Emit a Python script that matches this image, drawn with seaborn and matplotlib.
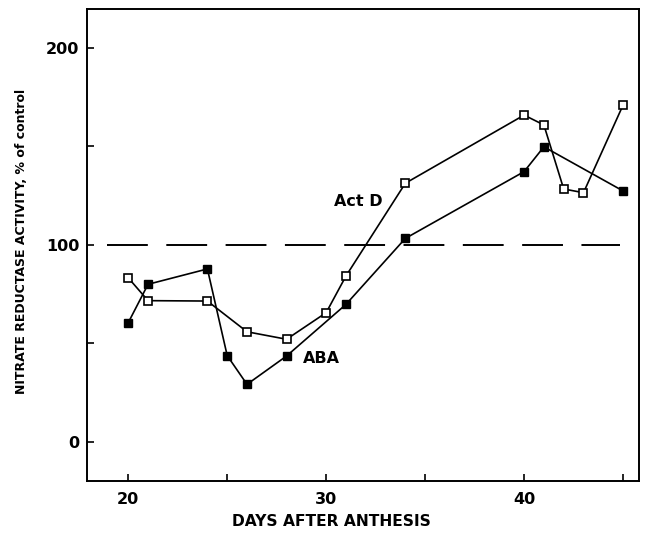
import matplotlib
matplotlib.use("Agg")
import matplotlib.pyplot as plt
import seaborn as sns
import pandas as pd

# Data
act_d_days = [20, 21, 24, 26, 28, 30, 31, 34, 40, 41, 42, 43, 45]
act_d_vals = [83.2, 71.6, 71.4, 55.8, 52.0, 65.5, 84.1, 131.2, 165.8, 160.8, 128.3, 126.4, 170.9]
aba_days = [20, 21, 24, 25, 26, 28, 31, 34, 40, 41, 45]
aba_vals = [60.4, 79.9, 87.7, 43.7, 29.1, 43.5, 69.7, 103.2, 137.1, 149.7, 127.3]
x_ticks = [20, 25, 30, 35, 40, 45]
x_ticklabels = ["20", "", "30", "", "40", ""]
y_ticks = [0, 50, 100, 150, 200]
y_ticklabels = ["0", "", "100", "", "200"]
control_level = 100

sns.set_theme(style="ticks")
plt.rcParams['font.family'] = ['DejaVu Sans']
plt.rcParams['text.color'] = 'black'

fig = plt.figure(figsize=(6.46, 5.36), dpi=100)
ax = fig.add_axes([0.1354, 0.1032, 0.989 - 0.1354, 0.9826 - 0.1032])

df_act = pd.DataFrame({"day": act_d_days, "val": act_d_vals})
df_aba = pd.DataFrame({"day": aba_days, "val": aba_vals})

ax.plot([18.95, 44.85], [control_level, control_level], color="black",
        lw=1.4, linestyle=(0, (21, 9.5)), zorder=1)

sns.lineplot(data=df_aba, x="day", y="val", ax=ax, estimator=None, color="black",
             lw=1.2, marker="s", markersize=5.5, markerfacecolor="black",
             markeredgecolor="black", markeredgewidth=1.0, zorder=3)
sns.lineplot(data=df_act, x="day", y="val", ax=ax, estimator=None, color="black",
             lw=1.2, marker="s", markersize=5.5, markerfacecolor="white",
             markeredgecolor="black", markeredgewidth=1.2, zorder=4)

ax.set_xlim(17.94, 45.8)
ax.set_ylim(-19.8, 219.5)
ax.set_xticks(x_ticks)
ax.set_xticklabels(x_ticklabels)
ax.set_yticks(y_ticks)
ax.set_yticklabels(y_ticklabels)
ax.tick_params(direction="in", length=5, width=1.2, labelsize=11.5, colors="black")
ax.tick_params(axis="x", pad=8)
ax.tick_params(axis="y", pad=6)
for lab in ax.get_xticklabels() + ax.get_yticklabels():
    lab.set_fontweight("bold")
for s in ax.spines.values():
    s.set_visible(True)
    s.set_linewidth(1.4)
    s.set_color("black")

ax.set_xlabel("")
ax.set_ylabel("")
fig.text(331 / 646, 1 - 522 / 536, "DAYS AFTER ANTHESIS", ha="center", va="center",
         fontsize=11.2, fontweight="bold", color="black")
fig.text(22 / 646, 1 - 241 / 536, "NITRATE REDUCTASE ACTIVITY, % of control",
         ha="center", va="center", rotation=90, fontsize=9.0, fontweight="bold", color="black")

ax.text(31.6, 121.8, "Act D", ha="center", va="center", fontsize=11.5,
        fontweight="bold", color="black")
ax.text(29.78, 42.3, "ABA", ha="center", va="center", fontsize=11.5,
        fontweight="bold", color="black")

fig.savefig("out.png", dpi=100, facecolor="white")
